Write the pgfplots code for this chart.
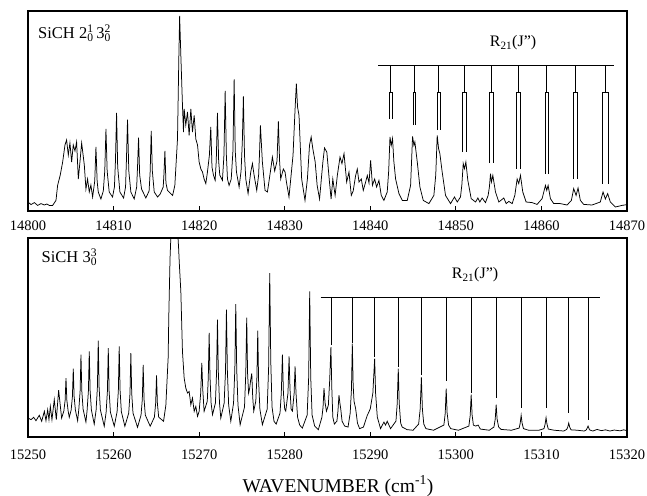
\documentclass[border=0pt]{standalone}
\usepackage{fontspec}
\setmainfont{Liberation Serif}
\usepackage{pgfplots}
\pgfplotsset{compat=1.18}
\pgfplotsset{
  spec/.style={
    scale only axis, width=599pt,
    ymin=0, ymax=100, ytick=\empty,
    tick align=inside, xtick pos=bottom, major tick length=5pt,
    axis line style={line width=1.5pt},
    every tick/.style={black, line width=0.8pt},
    scaled x ticks=false,
    xticklabel style={font=\fontsize{14.5}{14.5}\selectfont},
    unbounded coords=jump,
  },
  trace/.style={black, line width=0.75pt, mark=none},
  comb/.style={black, line width=0.8pt, mark=none},
}
\begin{document}
\begin{tikzpicture}[x=1pt,y=1pt]
\useasboundingbox (0,0) rectangle (647,-495);
% ---------------- top panel ----------------
\begin{axis}[spec, at={(28pt,-11pt)}, anchor=north west, height=200pt,
  xmin=14800, xmax=14870, xtick={14800,14810,14820,14830,14840,14850,14860,14870},
  xticklabels={14800,14810,14820,14830,14840,14850,14860,14870},
  xticklabel style={yshift=-6pt}]
\addplot[trace] coordinates {
(14800.00,4.5) (14800.35,3.2) (14800.74,4.2) (14801.13,2.8) (14801.52,3.7) (14801.91,3.0)
(14802.20,3.5) (14802.49,2.8) (14802.88,2.8) (14803.27,5.3) (14803.46,12.8) (14803.77,18)
(14804.05,24.5) (14804.32,33) (14804.51,35.5) (14804.71,28) (14804.90,34) (14805.10,24.5)
(14805.29,33) (14805.49,30) (14805.68,34.5) (14805.88,16) (14806.07,24.5) (14806.27,34)
(14806.58,23) (14806.77,11) (14806.96,16) (14807.16,9.5) (14807.35,13) (14807.55,7)
(14807.80,15) (14807.94,32) (14808.08,15) (14808.21,9.5) (14808.52,6) (14808.80,10)
(14808.97,20) (14809.11,41) (14809.25,20) (14809.49,9.5) (14809.88,7) (14810.10,12)
(14810.22,25) (14810.35,49) (14810.48,22) (14810.74,9.5) (14811.17,6.5) (14811.40,12)
(14811.50,25) (14811.63,45.7) (14811.78,20) (14812.02,9.5) (14812.41,6) (14812.70,12)
(14812.80,22) (14812.92,36.7) (14813.05,18) (14813.27,11) (14813.77,6.5) (14814.15,10)
(14814.28,20) (14814.40,40) (14814.53,20) (14814.75,9.5) (14815.14,7) (14815.45,8.5)
(14815.80,12) (14815.88,18) (14816.00,30) (14816.12,14) (14816.30,10.3) (14816.90,7.8)
(14817.16,12.8) (14817.47,36) (14817.62,75) (14817.72,97.5) (14817.86,78) (14818.05,53)
(14818.17,39.5) (14818.25,51) (14818.44,43) (14818.64,49.5) (14818.83,37.8) (14819.03,51)
(14819.22,39.5) (14819.42,47.8) (14819.61,36) (14819.81,33) (14820.00,24.5) (14820.20,21)
(14820.39,19.5) (14820.58,16) (14820.78,13.7) (14820.97,19.5) (14821.20,28) (14821.36,42)
(14821.50,22) (14821.67,18) (14821.87,15.3) (14822.00,25) (14822.14,49) (14822.28,25)
(14822.41,18) (14822.72,15.3) (14822.90,28) (14823.04,60) (14823.18,28) (14823.31,16)
(14823.50,12.8) (14823.75,16) (14823.95,30) (14824.09,65.8) (14824.22,30) (14824.36,19.5)
(14824.67,12) (14824.90,20) (14825.05,35) (14825.17,57.3) (14825.30,28) (14825.45,16)
(14825.72,8.7) (14826.03,19.5) (14826.23,23.7) (14826.42,18) (14826.73,10.3) (14826.95,18)
(14827.05,28) (14827.16,42.8) (14827.39,24.5) (14827.70,10.3) (14827.98,9.5) (14828.37,21)
(14828.56,27) (14828.83,20) (14829.10,25) (14829.26,44.8) (14829.40,25) (14829.53,16)
(14829.84,21) (14830.04,19.5) (14830.20,14.5) (14830.50,7) (14830.97,27.8) (14831.20,50)
(14831.36,63.7) (14831.50,52) (14831.67,47.8) (14831.98,16) (14832.37,5.3) (14832.65,16)
(14832.90,33) (14833.09,37) (14833.29,31) (14833.56,24.5) (14833.79,12.8) (14834.07,6)
(14834.46,24.5) (14834.65,31.5) (14834.92,29.5) (14835.23,14.5) (14835.42,6) (14835.62,16)
(14835.89,7.8) (14836.15,17.8) (14836.46,27) (14836.69,23.7) (14836.93,28.7) (14837.24,14.5)
(14837.51,19.5) (14837.78,7.8) (14838.00,10) (14838.29,17.8) (14838.48,21) (14838.68,14.5)
(14838.95,16) (14839.18,10.3) (14839.46,14.5) (14839.65,17.8) (14839.85,14) (14840.04,25.3)
(14840.25,12.8) (14840.51,16) (14840.74,12) (14841.01,15.3) (14841.28,7.8) (14841.59,5.3)
(14841.98,9.5) (14842.15,20) (14842.30,37) (14842.45,32.8) (14842.60,36.2) (14842.75,25)
(14842.96,16) (14843.35,8.7) (14843.74,5.3) (14844.32,5.3) (14844.71,12.8) (14844.94,37.3)
(14845.10,32.8) (14845.21,34.5) (14845.49,24.5) (14845.80,12) (14846.19,5.3) (14846.85,3.7)
(14847.43,7.8) (14847.65,18) (14847.82,37.8) (14847.98,31.2) (14848.13,28.7) (14848.40,19.5)
(14848.79,7.8) (14849.38,3.7) (14849.84,7) (14850.16,4.5) (14850.54,7) (14850.70,13)
(14850.86,23.7) (14851.01,21.2) (14851.17,24.5) (14851.40,15.3) (14851.79,6.2) (14852.30,4.5)
(14852.57,6.5) (14852.80,4.5) (14853.07,6.5) (14853.46,4.2) (14853.77,7.8) (14853.92,12)
(14854.05,18.7) (14854.16,14.5) (14854.32,17.8) (14854.63,9.5) (14855.02,4.5) (14855.60,6.5)
(14855.88,3.7) (14856.19,4.8) (14856.58,3.7) (14856.89,7.8) (14857.16,16) (14857.35,13.7)
(14857.55,17.8) (14857.82,9.5) (14858.21,4.5) (14858.91,4.2) (14859.49,3.3) (14860.08,6.2)
(14860.47,12.8) (14860.62,10.3) (14860.78,12.8) (14861.05,6.2) (14861.44,3.7) (14862.20,3.7)
(14863.00,3) (14863.50,5.3) (14863.77,11.2) (14864.05,7.8) (14864.28,11.5) (14864.55,5.3)
(14864.94,3.3) (14865.91,3) (14866.88,4.5) (14867.20,9.5) (14867.47,6) (14867.74,8.7)
(14868.05,4.5) (14868.64,2) (14869.42,2.8) (14870.00,3.2)
};
% R21 comb (top)
\addplot[comb] coordinates {
(14840.93,73) (14868.44,73) (nan,nan)
(14842.40,73) (14842.40,59.5) (nan,nan) (14842.24,46) (14842.24,59.5) (14842.56,59.5) (14842.56,46) (nan,nan)
(14845.15,73) (14845.15,59.5) (nan,nan) (14844.98,43) (14844.98,59.5) (14845.32,59.5) (14845.32,43) (nan,nan)
(14848.00,73) (14848.00,59.5) (nan,nan) (14847.82,40.5) (14847.82,59.5) (14848.18,59.5) (14848.18,40.5) (nan,nan)
(14851.00,73) (14851.00,59.5) (nan,nan) (14850.80,29.5) (14850.80,59.5) (14851.20,59.5) (14851.20,29.5) (nan,nan)
(14854.15,73) (14854.15,59.5) (nan,nan) (14853.95,24) (14853.95,59.5) (14854.35,59.5) (14854.35,24) (nan,nan)
(14857.35,73) (14857.35,59.5) (nan,nan) (14857.13,21.2) (14857.13,59.5) (14857.57,59.5) (14857.57,21.2) (nan,nan)
(14860.63,73) (14860.63,59.5) (nan,nan) (14860.41,18.7) (14860.41,59.5) (14860.85,59.5) (14860.85,18.7) (nan,nan)
(14864.00,73) (14864.00,59.5) (nan,nan) (14863.75,16) (14863.75,59.5) (14864.25,59.5) (14864.25,16) (nan,nan)
(14867.47,73) (14867.47,59.5) (nan,nan) (14867.15,13.7) (14867.15,59.5) (14867.79,59.5) (14867.79,13.7)
};
\end{axis}
% ---------------- bottom panel ----------------
\begin{axis}[spec, at={(28pt,-238pt)}, anchor=north west, height=199pt,
  xmin=15250, xmax=15320, xtick={15250,15260,15270,15280,15290,15300,15310,15320},
  xticklabels={15250,15260,15270,15280,15290,15300,15310,15320},
  xticklabel style={yshift=-9pt}]
\addplot[trace] coordinates {
(15250.04,9.5) (15250.35,8.7) (15250.66,9.9) (15250.93,8.2) (15251.32,10.9) (15251.60,7.9)
(15251.91,12.9) (15252.10,8.2) (15252.30,13.7) (15252.45,8.7) (15252.61,15.4) (15252.80,8.7)
(15253.07,18.8) (15253.31,8.7) (15253.58,23.5) (15253.93,9.5)
(15254.19,13.1) (15254.34,18.5) (15254.44,29.6) (15254.54,18.5) (15254.69,13.1) (15254.82,9.9)
(15255.04,13.5) (15255.19,20.3) (15255.29,34.3) (15255.39,20.3) (15255.54,13.5) (15255.80,8.2)
(15255.94,14) (15256.09,23) (15256.19,41.4) (15256.29,23) (15256.44,14) (15256.77,7.5)
(15256.91,13.5) (15257.06,23.2) (15257.16,43) (15257.26,23.2) (15257.41,13.5) (15257.74,6.5)
(15257.96,13.6) (15258.11,25) (15258.21,48.4) (15258.31,25) (15258.46,13.6) (15258.91,5.4)
(15259.13,12.5) (15259.28,23) (15259.38,44.7) (15259.48,23) (15259.63,12.5) (15260.08,5.4)
(15260.41,12.7) (15260.56,23.5) (15260.66,45.6) (15260.76,23.5) (15260.91,12.7) (15261.32,5.4)
(15261.77,12) (15261.92,22) (15262.02,42.2) (15262.12,22) (15262.27,12) (15262.80,4.9)
(15263.21,11) (15263.36,19) (15263.46,36.3) (15263.56,19) (15263.71,11) (15264.28,5.4)
(15264.77,10) (15264.92,17) (15265.02,31) (15265.12,17) (15265.27,10) (15265.84,7.9)
(15266.11,16) (15266.38,40) (15266.45,60) (15266.60,90) (15266.80,112) (15267.10,118)
(15267.40,110) (15267.60,95) (15267.67,88.3) (15267.86,73.2) (15268.05,43) (15268.25,29.6)
(15268.44,24.6) (15268.64,22.1) (15268.83,22.9) (15269.03,16.2) (15269.22,19.6) (15269.42,12.9)
(15269.61,15.4) (15269.81,10.4) (15270.00,12.9) (15270.18,22) (15270.31,37.2) (15270.42,24)
(15270.58,12.9) (15270.95,18) (15271.07,30) (15271.17,52.3) (15271.27,30) (15271.40,17)
(15271.56,11.2) (15271.90,17) (15272.04,33) (15272.14,59) (15272.24,33) (15272.38,17)
(15272.53,9.5) (15272.92,17) (15273.08,33) (15273.19,64) (15273.30,33) (15273.45,16)
(15273.70,7.9) (15274.02,17) (15274.17,34) (15274.28,66.8) (15274.39,34) (15274.54,16)
(15274.79,6.2) (15275.30,15) (15275.45,32) (15275.56,60) (15275.66,32) (15275.78,22)
(15275.91,24.6) (15276.00,28) (15276.15,32) (15276.26,20) (15276.38,13) (15276.62,18)
(15276.75,30) (15276.85,53.4) (15276.95,28) (15277.10,14) (15277.39,6.2) (15277.95,14)
(15278.12,35) (15278.25,82.4) (15278.37,38) (15278.52,15) (15278.75,7.9) (15279.00,6.5)
(15279.45,12) (15279.60,22) (15279.73,41.4) (15279.85,22) (15280.00,14) (15280.12,13)
(15280.38,22) (15280.51,40.5) (15280.62,24) (15280.75,14) (15280.90,13) (15281.10,22)
(15281.21,35.5) (15281.32,22) (15281.50,10) (15281.75,6) (15282.06,4.5) (15282.62,11)
(15282.80,30) (15282.92,73.2) (15283.04,30) (15283.20,11) (15283.50,5.5) (15283.93,3.7)
(15284.35,10) (15284.48,15) (15284.59,24.6) (15284.72,17) (15284.88,13) (15285.10,16)
(15285.25,28) (15285.40,45.2) (15285.50,25) (15285.62,10) (15285.80,6.5) (15286.10,8)
(15286.22,13) (15286.34,21) (15286.45,17) (15286.55,14) (15286.70,8) (15287.00,5.5)
(15287.40,5) (15287.65,12) (15287.80,24) (15287.90,46.9) (15288.00,26) (15288.10,18)
(15288.29,14.2) (15288.50,7) (15288.75,4.2) (15289.20,5) (15289.65,10.9) (15289.84,12.6)
(15290.00,14.2) (15290.30,22) (15290.51,39.4) (15290.62,22) (15290.82,10) (15291.20,4.2)
(15291.59,7.5) (15291.78,6) (15291.98,7.9) (15292.37,4.2) (15293.00,8) (15293.15,17)
(15293.27,34.3) (15293.38,17) (15293.55,7) (15293.73,5) (15294.30,3.7) (15295.00,3.4)
(15295.65,6.5) (15295.83,14) (15295.97,30) (15296.09,14) (15296.25,6.5) (15296.50,4.2)
(15297.40,3.4) (15298.60,6) (15298.76,12) (15298.87,24.3) (15298.98,12) (15299.15,6)
(15299.40,4.2) (15300.30,3.4) (15301.52,5.5) (15301.68,11) (15301.79,21.3) (15301.90,11)
(15302.05,6) (15302.30,5.5) (15302.61,6) (15302.85,4) (15303.90,3.4) (15304.45,5)
(15304.60,9) (15304.71,16.2) (15304.82,9) (15305.00,5) (15305.30,3.8) (15306.50,3.4)
(15307.40,4.5) (15307.52,7) (15307.63,10.9) (15307.74,7) (15307.90,4.2) (15308.50,3.4)
(15309.70,3.4) (15310.30,4.2) (15310.43,6.5) (15310.54,9.7) (15310.65,6.5) (15310.80,4)
(15311.50,3.4) (15312.60,3) (15312.95,3.8) (15313.08,5) (15313.19,7) (15313.30,5)
(15313.45,3.6) (15314.20,3.4) (15315.00,3) (15315.25,3.6) (15315.45,5.5) (15315.62,3.6)
(15316.00,3.0) (15316.50,3.8) (15317.00,3.2) (15317.50,3.6) (15318.00,3.0) (15318.50,3.5)
(15319.20,3.1) (15319.60,3.6) (15320.00,3.2)
};
% R21 comb (bottom)
\addplot[comb] coordinates {
(15284.2,70.4) (15316.8,70.4) (nan,nan)
(15285.40,70.4) (15285.40,46) (nan,nan)
(15287.90,70.4) (15287.90,47) (nan,nan)
(15290.51,70.4) (15290.51,40) (nan,nan)
(15293.27,70.4) (15293.27,35) (nan,nan)
(15295.97,70.4) (15295.97,31) (nan,nan)
(15298.87,70.4) (15298.87,28) (nan,nan)
(15301.79,70.4) (15301.79,22) (nan,nan)
(15304.71,70.4) (15304.71,19.6) (nan,nan)
(15307.63,70.4) (15307.63,14.6) (nan,nan)
(15310.54,70.4) (15310.54,14.6) (nan,nan)
(15313.19,70.4) (15313.19,12) (nan,nan)
(15315.45,70.4) (15315.45,8.7)
};
\end{axis}
% ---------------- labels ----------------
\node[anchor=west, inner sep=0pt, font=\fontsize{16.5}{16.5}\selectfont] at (38,-33)
  {SiCH 2\rlap{\textsuperscript{1}}\textsubscript{0}\,3\rlap{\textsuperscript{2}}\textsubscript{0}};
\node[anchor=west, inner sep=0pt, font=\fontsize{16.5}{16.5}\selectfont] at (41.5,-257)
  {SiCH 3\rlap{\textsuperscript{3}}\textsubscript{0}};
\node[inner sep=0pt, font=\fontsize{16}{16}\selectfont] at (513,-43) {R\textsubscript{21}(J'')};
\node[inner sep=0pt, font=\fontsize{16}{16}\selectfont] at (475,-275) {R\textsubscript{21}(J'')};
\node[inner sep=0pt, font=\fontsize{19.5}{19.5}\selectfont] at (338,-486) {WAVENUMBER (cm\textsuperscript{-1})};
\end{tikzpicture}
\end{document}
